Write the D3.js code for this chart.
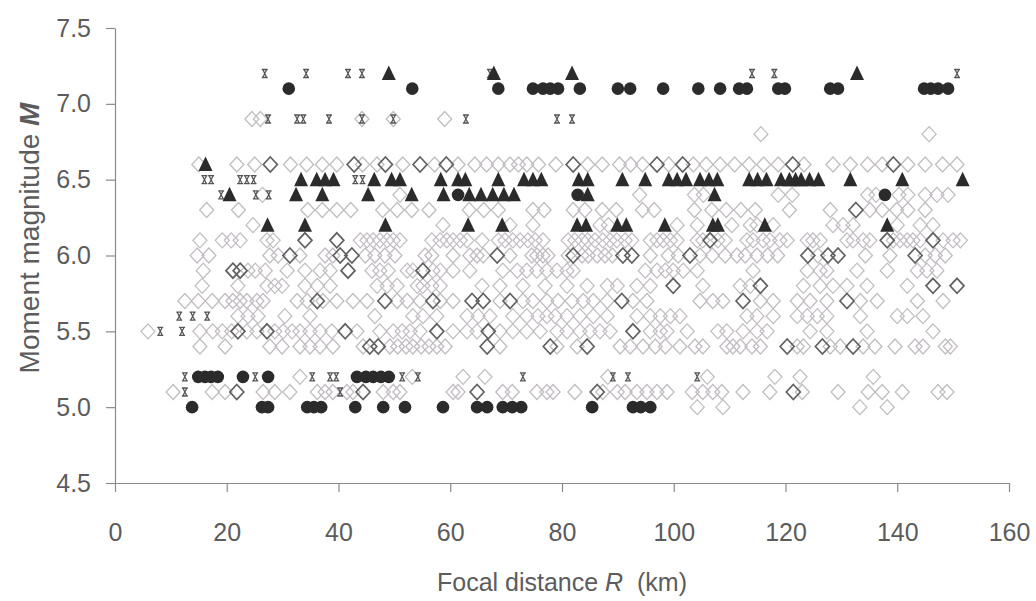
<!DOCTYPE html>
<html>
<head>
<meta charset="utf-8">
<script src="https://cdn.jsdelivr.net/npm/d3@7"></script>
<style>
  body { margin: 0; background: #fff; }
  svg { display: block; }
</style>
</head>
<body>
<div id="chart"></div>
<script>
// each row: [moment magnitude M, [focal distances R in km]]
var lightDiamonds = [
    [6.9, [24.5, 26.0, 44.2, 49.8, 59.0]],
    [6.8, [115.6, 145.7]],
    [6.6, [15.0, 21.8, 25.0, 31.4, 34.3, 37.1, 39.7, 44.3, 46.9, 51.5, 57.2, 61.4, 64.4, 66.5, 68.6, 70.7, 72.2, 73.7, 75.8, 78.9,
           84.6, 87.2, 90.3, 92.3, 94.4, 99.1, 103.5, 105.8, 108.3, 110.9, 113.5, 116.1, 118.7, 123.3, 128.5, 131.6, 134.7,
           137.3, 141.9, 145.0, 148.1, 150.7]],
    [6.4, [26.4, 51.0, 93.9, 103.7, 105.3, 118.7, 121.2, 134.7, 136.2, 140.3, 141.9, 145.0, 147.1, 149.1]],
    [6.3, [16.4, 22.1, 34.5, 37.1, 39.7, 42.2, 47.9, 50.5, 53.1, 56.2, 63.4, 66.0, 68.6, 74.8, 76.8, 82.0, 84.1, 87.2, 89.7,
           94.4, 96.5, 103.7, 106.8, 109.4, 112.0, 114.6, 120.7, 128.0, 135.1, 137.3, 139.9, 141.9, 145.0]],
    [6.2, [24.7, 58.7, 70.7, 74.8, 86.8, 88.3, 100.6, 104.2, 110.4, 113.7, 114.9, 117.8, 128.5, 130.3, 132.1, 140.0, 144.1, 146.4]],
    [6.1, [15.2, 19.2, 20.8, 22.4, 27.2, 28.3, 43.9, 45.1, 46.2, 47.4, 48.7, 49.8, 51.0, 56.7, 58.2, 59.4, 60.5, 61.8, 63.0,
           65.7, 68.6, 69.8, 71.2, 72.5, 73.9, 75.2, 76.6, 81.1, 82.3, 83.6, 84.6, 85.9, 87.3, 88.6, 89.8, 91.3, 92.5, 95.8,
           97.0, 98.1, 99.4, 100.6, 104.2, 105.2, 107.9, 109.2, 113.1, 114.2, 116.0, 117.2, 119.0, 120.3, 123.9, 124.9, 126.2,
           131.0, 132.1, 133.9, 135.1, 139.3, 140.5, 141.8, 142.8, 144.1, 148.2, 150.0, 151.3]],
    [6.0, [14.7, 16.8, 27.7, 29.2, 33.1, 37.6, 39.0, 44.8, 46.5, 48.3, 50.1, 55.5, 56.7, 60.5, 63.5, 64.8, 65.9, 70.7, 74.6,
           75.5, 76.6, 77.5, 81.1, 83.6, 84.7, 86.3, 87.7, 89.0, 95.8, 99.0, 100.8, 104.7, 106.9, 109.2, 111.3, 112.8, 114.9,
           116.8, 118.6, 125.8, 134.3, 138.7, 145.0, 146.8, 148.6]],
    [5.9, [15.8, 23.8, 25.1, 26.9, 30.8, 34.0, 36.7, 38.5, 46.0, 47.4, 48.9, 52.3, 53.3, 56.9, 58.2, 60.5, 63.5, 69.4, 72.0,
           73.7, 75.5, 77.3, 79.1, 80.9, 82.0, 94.9, 97.0, 98.5, 99.9, 101.7, 104.2, 114.2, 123.9, 126.2, 127.4, 132.8, 138.2,
           143.6, 145.3, 147.1]],
    [5.8, [15.6, 22.0, 27.2, 28.6, 29.9, 34.0, 36.2, 38.5, 46.9, 48.7, 50.5, 54.1, 55.1, 56.7, 58.2, 65.7, 68.9, 73.0, 77.0,
           80.9, 84.5, 88.1, 89.9, 93.4, 95.8, 105.2, 111.9, 113.7, 123.2, 126.2, 128.5, 131.0, 134.6, 141.8]],
    [5.7, [12.5, 14.9, 17.4, 19.7, 21.1, 22.4, 23.6, 25.4, 26.5, 32.6, 34.4, 37.2, 39.7, 42.6, 45.1, 50.5, 52.3, 54.6, 58.2,
           60.5, 68.9, 73.0, 74.8, 77.3, 79.3, 81.8, 83.8, 85.6, 88.1, 92.7, 95.2, 104.7, 107.0, 108.8, 115.5, 117.8, 122.1,
           124.4, 127.4, 133.4, 136.4, 143.6, 148.2]],
    [5.6, [22.0, 23.8, 25.6, 30.4, 34.9, 46.5, 53.3, 55.1, 57.6, 63.0, 65.0, 67.1, 71.2, 73.7, 75.7, 77.3, 78.8, 80.9, 83.2,
           85.6, 88.1, 93.4, 95.8, 97.6, 99.4, 101.1, 113.1, 114.9, 117.8, 122.1, 123.9, 125.7, 127.4, 133.4, 140.0, 141.8, 144.6]],
    [5.5, [5.9, 15.2, 17.5, 19.2, 20.9, 23.6, 25.4, 28.6, 30.1, 31.7, 33.1, 34.9, 36.7, 38.8, 43.3, 47.4, 49.8, 51.4, 52.8,
           54.6, 60.5, 63.0, 64.8, 68.9, 71.2, 73.7, 76.1, 79.1, 80.9, 83.2, 85.0, 86.8, 88.6, 95.8, 97.6, 98.8, 102.4, 107.9,
           109.5, 112.4, 114.9, 116.7, 124.4, 127.4, 134.6, 146.4]],
    [5.4, [15.2, 19.7, 27.7, 29.9, 33.1, 34.9, 36.7, 39.0, 44.4, 49.2, 50.6, 52.1, 53.3, 54.8, 56.2, 57.6, 59.1, 68.9, 79.1,
           82.7, 90.4, 92.2, 94.5, 96.7, 98.5, 101.1, 103.8, 105.2, 109.5, 110.6, 111.9, 114.0, 115.5, 122.1, 123.2, 128.0,
           129.8, 133.9, 136.0, 139.6, 143.2, 144.6, 148.6, 149.5]],
    [5.2, [33.1, 53.2, 62.3, 66.2, 88.2, 106.0, 118.1, 122.6, 135.7]],
    [5.1, [10.4, 17.4, 19.7, 26.5, 28.6, 31.3, 36.2, 37.6, 39.0, 41.5, 42.6, 48.0, 49.8, 51.0, 60.5, 61.4, 69.4, 71.1, 75.5,
           77.3, 78.4, 82.3, 87.3, 89.9, 91.3, 93.4, 95.2, 97.0, 98.8, 103.3, 105.2, 107.0, 108.6, 112.4, 117.2, 123.0, 129.4,
           134.8, 137.3, 140.9, 147.3, 148.9]],
    [5.0, [104.2, 108.8, 133.3, 138.2]]
];

var darkDiamonds = [
    [6.6, [27.8, 42.8, 48.4, 54.6, 59.3, 82.0, 97.0, 101.6, 121.3, 139.3]],
    [6.3, [132.6]],
    [6.1, [34.0, 39.7, 106.5, 138.2, 146.4]],
    [6.0, [31.3, 40.3, 42.4, 68.4, 82.0, 90.9, 92.5, 102.9, 124.0, 127.6, 129.4, 143.2]],
    [5.9, [21.1, 22.4, 41.7, 55.1]],
    [5.8, [99.9, 115.5, 146.4, 150.7]],
    [5.7, [36.2, 48.3, 56.9, 63.9, 65.9, 70.7, 90.7, 112.4, 131.0]],
    [5.5, [22.0, 27.2, 41.2, 57.6, 66.8, 92.7]],
    [5.4, [45.6, 47.1, 66.6, 77.9, 84.5, 120.3, 126.6, 132.1]],
    [5.1, [21.8, 44.4, 64.8, 86.3, 121.4]]
];

var barMarks = [
    [7.2, [26.8, 34.2, 41.7, 44.2, 67.1, 114.0, 118.0, 150.7]],
    [6.9, [27.4, 32.6, 33.7, 38.3, 44.2, 49.8, 62.8, 79.1, 81.8]],
    [6.5, [16.0, 17.2, 22.4, 23.6, 24.8, 43.0, 44.3]],
    [6.4, [19.0, 25.2, 27.5]],
    [5.6, [11.5, 13.9, 16.5]],
    [5.5, [8.1, 12.0]],
    [5.2, [12.5, 25.1, 35.3, 38.5, 39.6, 51.4, 54.2, 73.0, 89.1, 91.8, 104.2]],
    [5.1, [12.5, 40.3]]
];

var circles = [
    [7.1, [31.1, 53.2, 68.6, 74.8, 76.6, 77.9, 79.3, 83.2, 90.0, 92.2, 98.1, 104.4, 108.3, 111.7, 113.1, 118.7, 119.9, 128.0,
           129.4, 144.8, 146.0, 147.3, 149.1]],
    [6.4, [61.4, 82.8, 137.8]],
    [5.2, [14.9, 16.1, 17.2, 18.4, 22.9, 27.4, 43.3, 44.9, 46.2, 47.6, 49.0]],
    [5.0, [13.8, 26.3, 27.4, 34.4, 35.6, 36.9, 43.0, 48.0, 51.9, 58.7, 64.8, 66.6, 69.4, 71.1, 72.7, 85.4, 92.7, 94.1, 95.8]]
];

var triangles = [
    [7.2, [49.0, 67.8, 81.8, 132.8]],
    [6.6, [16.2]],
    [6.5, [33.3, 36.1, 37.6, 39.1, 46.4, 49.5, 51.0, 58.3, 61.4, 62.7, 68.6, 73.2, 74.8, 76.3, 83.0, 84.6, 90.8, 94.9, 99.1,
           100.6, 102.2, 104.7, 106.3, 107.8, 113.5, 115.0, 116.6, 119.2, 120.7, 121.8, 122.8, 124.3, 125.9, 131.6, 140.9, 151.7]],
    [6.4, [20.5, 32.4, 37.1, 45.3, 53.1, 58.8, 63.4, 65.5, 67.6, 69.6, 71.4, 84.6, 107.3]],
    [6.2, [27.3, 34.0, 48.4, 63.2, 69.3, 82.7, 84.3, 89.9, 91.5, 98.4, 107.0, 107.9, 116.3, 138.2]]
];

var xTicks = [0, 20, 40, 60, 80, 100, 120, 140, 160],
    yTicks = [4.5, 5.0, 5.5, 6.0, 6.5, 7.0, 7.5];

var width = 1036,
    height = 601;

var flatten = function (rows) {
    var pts = [];
    rows.forEach(function (row) {
        row[1].forEach(function (r) {
            pts.push({ m: row[0], r: r });
        });
    });
    return pts;
}

var svg = d3.select("#chart")
    .append("svg")
    .attr("xmlns", "http://www.w3.org/2000/svg")
    .attr("width", width)
    .attr("height", height);

var x = d3.scaleLinear().domain([0, 160]).range([115, 1009]);
var y = d3.scaleLinear().domain([4.5, 7.5]).range([483, 28]);

// axes
var yAxis = svg.append("g")
    .attr("transform", "translate(115,0)")
    .call(d3.axisLeft(y).tickValues(yTicks).tickFormat(d3.format(".1f")).tickSize(9).tickSizeOuter(0).tickPadding(15));

var xAxis = svg.append("g")
    .attr("transform", "translate(0,483)")
    .call(d3.axisBottom(x).tickValues(xTicks).tickSize(9).tickSizeOuter(0).tickPadding(31));

svg.selectAll(".domain, .tick line")
    .attr("stroke", "#8a8a8a")
    .attr("stroke-width", 1.2);

yAxis.selectAll("text")
    .attr("fill", "#5c5c5c")
    .style("font", "25px 'Liberation Sans', Arial, sans-serif");

xAxis.selectAll("text")
    .attr("fill", "#5c5c5c")
    .style("font", "25px 'Liberation Sans Narrow', 'Arial Narrow', sans-serif");

// axis titles
var xTitle = svg.append("text")
    .attr("x", 562)
    .attr("y", 591)
    .attr("text-anchor", "middle")
    .attr("fill", "#5c5c5c")
    .style("font", "25px 'Liberation Sans', Arial, sans-serif");
xTitle.append("tspan").text("Focal distance ");
xTitle.append("tspan").style("font-style", "italic").text("R");
xTitle.append("tspan").attr("xml:space", "preserve").text("  (km)");

var yTitle = svg.append("text")
    .attr("transform", "translate(39,238) rotate(-90)")
    .attr("text-anchor", "middle")
    .attr("fill", "#5c5c5c")
    .style("font", "28px 'Liberation Sans', Arial, sans-serif");
yTitle.append("tspan").text("Moment magnitude ");
yTitle.append("tspan").style("font-style", "italic").style("font-weight", "bold").text("M");

// marks
var diamondPath = "M0,-7.5L7,0L0,7.5L-7,0Z",
    trianglePath = "M0,-8L7,6.5H-7Z",
    barPath = "M-3,-4H3M-3,4H3M-2,-4L2,4M2,-4L-2,4";

var place = function (d) {
    return "translate(" + x(d.r) + "," + y(d.m) + ")";
}

svg.append("g").selectAll("path")
    .data(flatten(lightDiamonds))
    .enter()
    .append("path")
    .attr("d", diamondPath)
    .attr("transform", place)
    .attr("fill", "none")
    .attr("stroke", "#c2bcc3")
    .attr("stroke-width", 1.3);

svg.append("g").selectAll("path")
    .data(flatten(darkDiamonds))
    .enter()
    .append("path")
    .attr("d", diamondPath)
    .attr("transform", place)
    .attr("fill", "none")
    .attr("stroke", "#606060")
    .attr("stroke-width", 1.7);

svg.append("g").selectAll("path")
    .data(flatten(barMarks))
    .enter()
    .append("path")
    .attr("d", barPath)
    .attr("transform", place)
    .attr("fill", "none")
    .attr("stroke", "#555")
    .attr("stroke-width", 1.3);

svg.append("g").selectAll("circle")
    .data(flatten(circles))
    .enter()
    .append("circle")
    .attr("cx", function (d) { return x(d.r) })
    .attr("cy", function (d) { return y(d.m) })
    .attr("r", 6.3)
    .attr("fill", "#2b2b2b");

svg.append("g").selectAll("path")
    .data(flatten(triangles))
    .enter()
    .append("path")
    .attr("d", trianglePath)
    .attr("transform", place)
    .attr("fill", "#2b2b2b");
</script>
</body>
</html>
